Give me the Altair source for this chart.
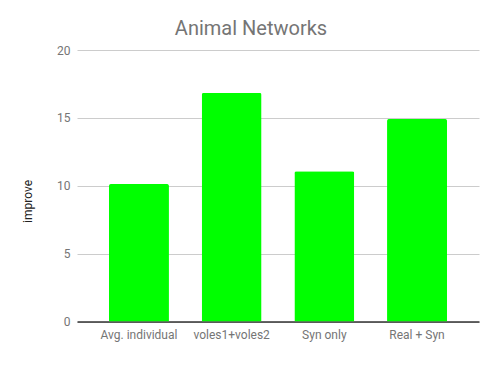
import altair as alt
import pandas as pd

categories = ["Avg. individual", "voles1+voles2", "Syn only", "Real + Syn"]
improve = [10.13, 16.84, 11.07, 14.92]

df = pd.DataFrame({"cat": categories, "improve": improve})

chart = alt.Chart(df).mark_bar(color="#00ff00", cornerRadiusTopLeft=2, cornerRadiusTopRight=2).encode(
    x=alt.X("cat:N", sort=categories, title=None,
            scale=alt.Scale(paddingInner=0.353, paddingOuter=0.345),
            axis=alt.Axis(labelAngle=0, ticks=False, domainColor="#333333", domainWidth=1.5,
                          labelColor="#757575", labelFont="Roboto", labelFontSize=12,
                          labelPadding=8, grid=False)),
    y=alt.Y("improve:Q", title="improve", scale=alt.Scale(domain=[0, 20]),
            axis=alt.Axis(values=[0, 5, 10, 15, 20], ticks=False, domain=False,
                          gridColor="#cccccc", labelColor="#757575", labelFont="Roboto",
                          labelFontSize=12, labelPadding=7, titleFont="Roboto",
                          titleFontSize=12, titleFontWeight="normal", titleColor="#222222",
                          titlePadding=22, titleY=151)),
).properties(
    width=402, height=271.5,
    title=alt.TitleParams("Animal Networks", font="Roboto", fontSize=20, fontWeight="normal",
                          color="#757575", anchor="middle", dx=-27, offset=5),
    autosize=alt.AutoSizeParams(type="none"),
    padding={"left": 69, "top": 42, "right": 15, "bottom": 30},
).configure_view(stroke=None)

chart.save("out.html", embed_options={"renderer": "svg", "actions": False})
